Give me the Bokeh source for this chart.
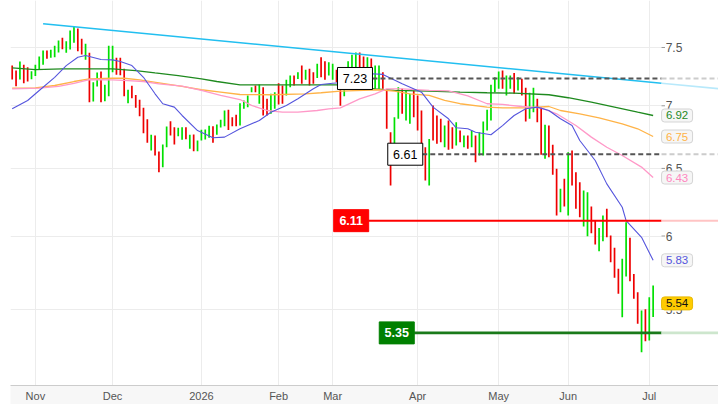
from bokeh.plotting import figure
from bokeh.models import Range1d, FixedTicker
from bokeh.core.properties import value
from bokeh.embed import file_html
from bokeh.resources import INLINE

FONT = "Liberation Sans"

# ---- daily bars (index = trading day) ----
bar_dir = list("RRGRRGGGGR" "GGGRGGGRRG" "RGGRGGGRRR" "GRRRRRGRRG" "GRRGGRGRGG"
               "GGRGGGRRRG" "GGGRGRRGGR" "RGGRGRGRRG" "RRGGRRGGGG" "RRGRGGRRRG"
               "GRGGRRRRGR" "RRGRRGRGRG" "RGGGGGGRGG" "RGRRGGRRGR" "RRGRGRRRGG"
               "RRGGRRRRGG" "RRRGRGG")
bar_high = [7.341, 7.298, 7.376, 7.348, 7.327, 7.292, 7.348, 7.420, 7.473, 7.473,
            7.479, 7.515, 7.562, 7.586, 7.556, 7.652, 7.689, 7.670, 7.577, 7.533,
            7.453, 7.198, 7.281, 7.289, 7.176, 7.515, 7.515, 7.409, 7.409, 7.313,
            7.134, 7.167, 7.089, 7.050, 6.983, 6.890, 6.764, 6.758, 6.631, 6.686,
            6.830, 6.873, 6.825, 6.820, 6.825, 6.825, 6.764, 6.766, 6.718, 6.804,
            6.806, 6.836, 6.833, 6.847, 6.885, 6.961, 6.967, 6.906, 6.926, 7.022,
            7.044, 7.086, 7.156, 7.170, 7.178, 7.156, 7.058, 7.100, 7.114, 7.189,
            7.170, 7.218, 7.255, 7.255, 7.283, 7.341, 7.304, 7.313, 7.283, 7.356,
            7.414, 7.379, 7.370, 7.356, 7.304, 7.190, 7.200, 7.379, 7.435, 7.455,
            7.455, 7.420, 7.414, 7.403, 7.341, 7.341, 7.283, 7.128, 6.784, 6.906,
            7.156, 7.142, 7.128, 7.100, 7.128, 7.086, 6.961, 6.665, 6.731, 7.003,
            6.920, 6.893, 6.838, 6.879, 6.825, 6.865, 6.798, 6.758, 6.758, 6.798,
            6.758, 6.784, 6.871, 6.967, 7.176, 7.240, 7.289, 7.298, 7.255, 7.255,
            7.278, 7.240, 7.227, 7.151, 7.109, 7.151, 7.058, 6.989, 6.844, 6.838,
            6.684, 6.497, 6.345, 6.420, 6.626, 6.639, 6.471, 6.394, 6.332, 6.319,
            6.214, 6.111, 6.058, 6.148, 6.197, 6.004, 5.917, 5.772, 5.841, 6.099,
            5.987, 5.737, 5.614, 5.494, 5.501, 5.581, 5.658]
bar_low = [7.221, 7.164, 7.221, 7.189, 7.204, 7.223, 7.252, 7.307, 7.348, 7.400,
           7.409, 7.414, 7.455, 7.485, 7.453, 7.482, 7.542, 7.467, 7.438, 7.391,
           7.030, 7.036, 7.162, 7.030, 7.038, 7.080, 7.283, 7.261, 7.258, 7.080,
           7.022, 7.063, 6.983, 6.914, 6.776, 6.700, 6.639, 6.600, 6.471, 6.509,
           6.665, 6.758, 6.686, 6.752, 6.724, 6.728, 6.652, 6.634, 6.634, 6.718,
           6.726, 6.740, 6.700, 6.764, 6.822, 6.833, 6.803, 6.833, 6.833, 6.838,
           6.975, 6.988, 7.114, 7.114, 7.017, 6.920, 6.920, 6.934, 6.975, 7.011,
           7.017, 7.086, 7.156, 7.170, 7.226, 7.184, 7.218, 7.170, 7.184, 7.235,
           7.240, 7.218, 7.255, 7.218, 7.198, 7.000, 7.080, 7.220, 7.290, 7.320,
           7.300, 7.280, 7.298, 7.283, 7.142, 7.142, 7.142, 6.812, 6.370, 6.692,
           6.893, 6.934, 6.879, 6.852, 6.906, 6.798, 6.639, 6.407, 6.370, 6.718,
           6.692, 6.705, 6.665, 6.645, 6.652, 6.679, 6.705, 6.665, 6.652, 6.665,
           6.548, 6.600, 6.600, 6.798, 6.879, 7.114, 7.142, 7.142, 7.086, 7.142,
           7.100, 7.128, 7.086, 6.871, 6.893, 6.947, 6.865, 6.605, 6.574, 6.587,
           6.451, 6.147, 6.171, 6.214, 6.147, 6.370, 6.197, 6.135, 6.068, 5.999,
           6.020, 5.940, 5.893, 5.963, 5.991, 5.817, 5.710, 5.603, 5.450, 5.719,
           5.687, 5.570, 5.408, 5.229, 5.298, 5.302, 5.451]
bar_idx = list(range(len(bar_high)))

month_ticks = [6, 26, 49, 69, 83, 105, 126, 144, 165]
month_labels = ["Nov", "Dec", "2026", "Feb", "Mar", "Apr", "May", "Jun", "Jul"]

y_ticks = [5.5, 6, 6.5, 7, 7.5]
y_tick_labels = ["5.5", "6", "6.5", "7", "7.5"]

# ---- moving averages (read at sample bars) ----
ma_blue_idx = [0, 4, 7, 11, 14, 17, 19, 23, 26, 28, 31, 34, 37, 39, 42, 44, 48, 52, 55, 59,
               64, 67, 71, 74, 78, 80, 83, 85, 93, 96, 101, 106, 109, 113, 115, 118, 120,
               124, 127, 130, 133, 136, 139, 142, 145, 147, 151, 154, 158, 159, 163, 166]
ma_blue_val = [6.975, 7.044, 7.128, 7.240, 7.341, 7.414, 7.429, 7.394, 7.391, 7.376,
               7.341, 7.240, 7.100, 7.017, 6.989, 6.920, 6.798, 6.740, 6.745, 6.812,
               6.879, 6.947, 7.003, 7.058, 7.142, 7.178, 7.189, 7.193, 7.270, 7.265,
               7.184, 7.114, 6.989, 6.893, 6.820, 6.812, 6.784, 6.764, 6.838, 6.920,
               6.975, 6.989, 6.961, 6.893, 6.838, 6.718, 6.561, 6.382, 6.208, 6.111,
               5.991, 5.83]
ma_green_idx = [0, 6, 13, 19, 26, 32, 37, 43, 49, 53, 59, 67, 76, 84, 94, 99, 108, 116,
                123, 130, 139, 144, 150, 156, 162, 166]
ma_green_val = [7.321, 7.306, 7.313, 7.313, 7.313, 7.298, 7.278, 7.255, 7.227, 7.204,
                7.176, 7.176, 7.176, 7.176, 7.142, 7.128, 7.122, 7.114, 7.109, 7.106,
                7.092, 7.067, 7.030, 6.989, 6.947, 6.92]
ma_orange_idx = [0, 6, 11, 16, 20, 26, 29, 33, 38, 44, 49, 54, 59, 67, 76, 80, 85, 95, 99,
                 103, 108, 112, 116, 123, 127, 133, 139, 142, 147, 152, 158, 162, 166]
ma_orange_val = [7.147, 7.150, 7.170, 7.204, 7.227, 7.232, 7.232, 7.218, 7.193, 7.162,
                 7.134, 7.114, 7.094, 7.092, 7.100, 7.109, 7.122, 7.134, 7.122, 7.100,
                 7.086, 7.044, 7.017, 6.989, 6.983, 6.983, 6.994, 6.961, 6.934, 6.901,
                 6.852, 6.812, 6.75]
ma_pink_idx = [0, 7, 12, 16, 20, 26, 30, 34, 38, 44, 49, 54, 59, 62, 66, 70, 74, 79, 82,
               85, 90, 94, 97, 101, 108, 113, 118, 123, 127, 132, 137, 141, 146, 150,
               154, 158, 163, 166]
ma_pink_val = [7.142, 7.147, 7.162, 7.189, 7.221, 7.218, 7.212, 7.204, 7.184, 7.164,
               7.128, 7.086, 7.052, 7.003, 6.961, 6.947, 6.947, 6.961, 6.975, 6.983,
               7.058, 7.100, 7.142, 7.142, 7.128, 7.124, 7.082, 7.017, 7.011, 6.994,
               6.983, 6.934, 6.838, 6.745, 6.665, 6.600, 6.510, 6.43]

# ---- trend line and price levels ----
trend_idx = [8, 168.17]
trend_val = [7.714, 7.189]
trend_ext_idx = [168.17, 183]
trend_ext_val = [7.189, 7.143]

level_val = [7.23, 6.61, 6.11, 5.35]
level_text = ["7.23", "6.61", "6.11", "5.35"]

tag_val = [6.92, 6.75, 6.43, 5.83, 5.54]
tag_text = ["6.92", "6.75", "6.43", "5.83", "5.54"]

X_END = 168.17
X_MAX = 182.93

p = figure(frame_width=708, frame_height=385,
           x_range=Range1d(-0.44, X_MAX), y_range=Range1d(5.027, 7.929),
           y_axis_type="log", y_axis_location=None,
           output_backend="svg", toolbar_location=None,
           min_border_left=10, min_border_right=0, min_border_top=0, min_border_bottom=0)
p.outline_line_color = None
p.background_fill_color = "white"
p.border_fill_color = "white"

p.xgrid.ticker = FixedTicker(ticks=month_ticks)
p.xgrid.grid_line_color = "#ececec"
p.ygrid.ticker = FixedTicker(ticks=y_ticks)
p.ygrid.grid_line_color = "#ececec"

xa = p.xaxis[0]
xa.ticker = FixedTicker(ticks=month_ticks)
xa.major_label_overrides = dict(zip(month_ticks, month_labels))
xa.major_tick_line_color = None
xa.minor_tick_line_color = None
xa.major_tick_out = 0
xa.major_tick_in = 0
xa.major_label_standoff = 4
xa.axis_line_color = "#cccccc"
xa.major_label_text_font = FONT
xa.major_label_text_font_size = "11px"
xa.major_label_text_color = "#555555"
xa.background_fill_color = "#f7f7f7"

# cover grid in the right margin area
p.quad(left=[X_END], right=[X_MAX + 1], bottom=[5.0], top=[8.0], fill_color="white", line_color=None)

# bars
bar_color = ["#00e000" if d == "G" else "#ee0000" for d in bar_dir]
p.segment(x0=bar_idx, y0=bar_low, x1=bar_idx, y1=bar_high, line_color=bar_color, line_width=1.7)

# moving averages
p.line(ma_green_idx, ma_green_val, line_color="#1f8a1f", line_width=1.3)
p.line(ma_orange_idx, ma_orange_val, line_color="#ffb347", line_width=1.3)
p.line(ma_pink_idx, ma_pink_val, line_color="#ff99c8", line_width=1.3)
p.line(ma_blue_idx, ma_blue_val, line_color="#5555dd", line_width=1.1)

# trend line
p.line(trend_idx, trend_val, line_color="#22bff0", line_width=1.6)
p.line(trend_ext_idx, trend_ext_val, line_color="#b8e9fb", line_width=1.6)

# levels
level_start = [93.3, 106.2, 92.2, 104.1]
level_color = ["#555555", "#555555", "#ff0000", "#1a7a1a"]
level_fade = ["#cccccc", "#cccccc", "#ffc4c4", "#cde6cd"]
level_dash = ["5 3", "5 3", "solid", "solid"]
level_width = [2, 2, 2, 2.6]
for v, s, c, f, d, w in zip(level_val, level_start, level_color, level_fade, level_dash, level_width):
    p.line([s, X_END], [v, v], line_color=c, line_width=w, line_dash=d)
    p.line([X_END, X_MAX + 1], [v, v], line_color=f, line_width=w, line_dash=d)

label_x = [88.78, 101.8, 87.8, 99.6]
label_fill = ["white", "white", "#ff0000", "#008000"]
label_line = ["black", "black", "#ff0000", "#008000"]
label_txt_color = ["black", "black", "white", "white"]
label_style = ["normal", "normal", "bold", "bold"]
p.rect(x=label_x, y=level_val, width=35, height=22, width_units="screen", height_units="screen",
       fill_color=label_fill, line_color=label_line, line_width=1)
for lx, v, t, tc, st in zip(label_x, level_val, level_text, label_txt_color, label_style):
    p.text(x=[lx], y=[v], text=[t], text_align="center", text_baseline="middle",
           text_color=tc, text_font=value(FONT), text_font_size="12.5px", text_font_style=st)

# y tick marks and labels on the right
p.segment(x0=[X_END] * len(y_ticks), y0=y_ticks, x1=[169.07] * len(y_ticks), y1=y_ticks,
          line_color="#999999", line_width=1)
p.text(x=[169.25] * len(y_ticks), y=y_ticks, text=y_tick_labels, text_align="left",
       text_baseline="middle", text_color="#555555", text_font=value(FONT), text_font_size="12px")

# value tags
tag_fill = ["#f6f6f6", "#f6f6f6", "#f6f6f6", "#f6f6f6", "#ffcc00"]
tag_line = ["#d4d4d4", "#d4d4d4", "#d4d4d4", "#d4d4d4", "#e8b800"]
tag_color = ["#1f8a1f", "#ffb347", "#ff88c0", "#5555dd", "#111111"]
p.rect(x=[172.2] * len(tag_val), y=tag_val, width=31, height=13, width_units="screen",
       height_units="screen", fill_color=tag_fill, line_color=tag_line, line_width=1,
       border_radius=3)
p.text(x=[172.2] * len(tag_val), y=tag_val, text=tag_text, text_align="center",
       text_baseline="middle", text_color=tag_color, text_font=value(FONT), text_font_size="11.5px")

open("out.html", "w").write(file_html(p, INLINE))
